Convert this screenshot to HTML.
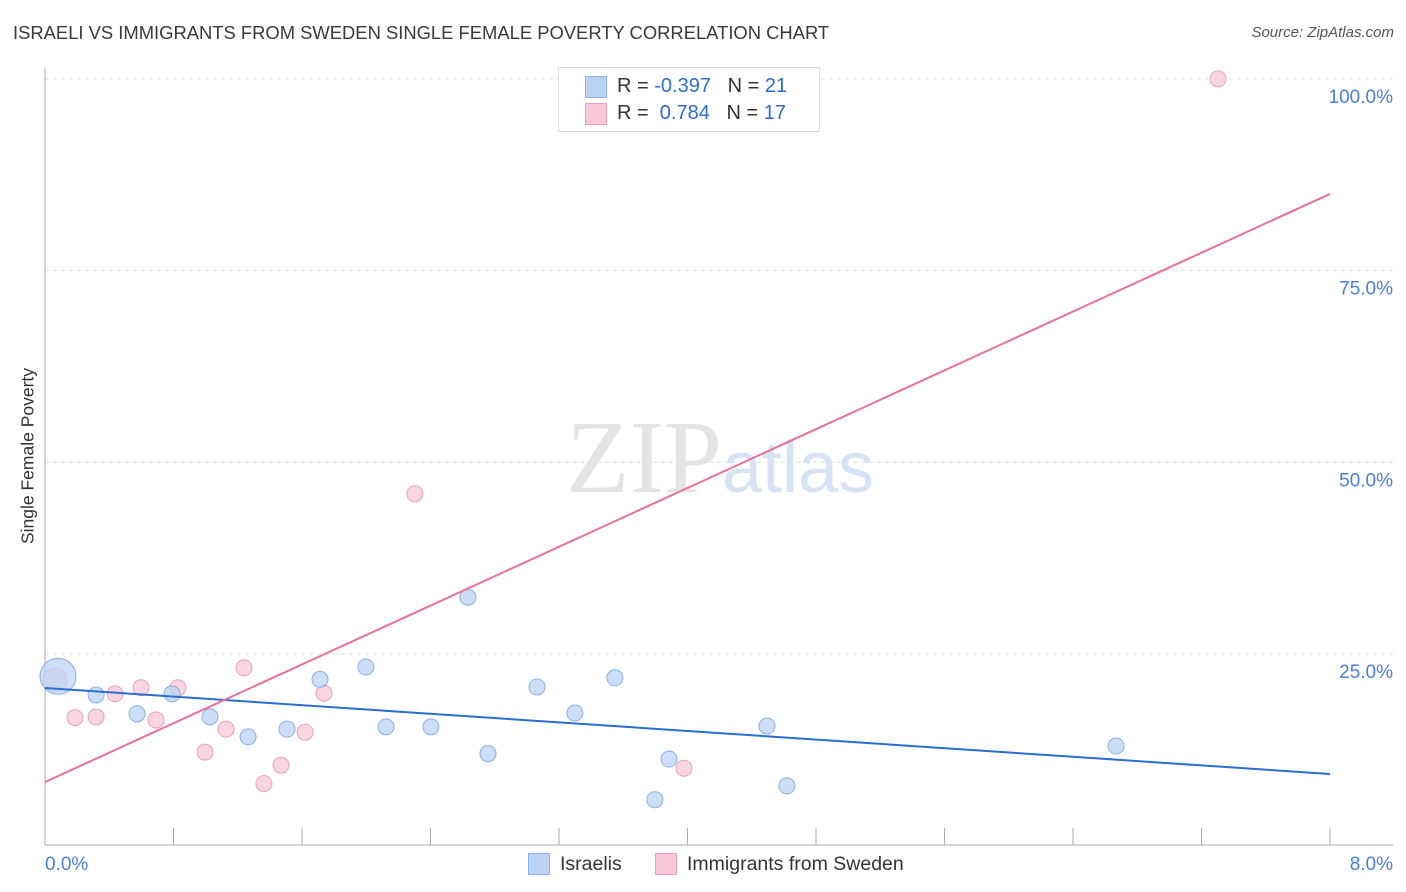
<!DOCTYPE html>
<html><head><meta charset="utf-8"><style>
body{margin:0;background:#fff;font-family:"Liberation Sans",sans-serif;}
#wrap{position:relative;width:1406px;height:892px;overflow:hidden;}
.t{position:absolute;white-space:nowrap;}
</style></head><body>
<div id="wrap">
<div class="t" style="left:13px;top:22px;font-size:18.4px;color:#3a3a3a;">ISRAELI VS IMMIGRANTS FROM SWEDEN SINGLE FEMALE POVERTY CORRELATION CHART</div>
<div class="t" style="right:12px;top:24px;font-size:15px;color:#555;font-style:italic;">Source: ZipAtlas.com</div>
<div class="t" style="left:28px;top:456px;font-size:17.5px;color:#333;transform:translate(-50%,-50%) rotate(-90deg);">Single Female Poverty</div>
<svg id="svg" width="1406" height="892" style="position:absolute;left:0;top:0;"></svg>
<div style="position:absolute;left:558px;top:67px;width:260px;height:63px;border:1px solid #ddd;background:#fff;font-size:20px;">
 <div style="position:absolute;left:26px;top:8px;width:20px;height:20px;background:#bcd4f4;border:1px solid #8ab0e8;"></div>
 <div class="t" style="left:58px;top:7px;color:#333;">R = <span style="color:#2a6dd4">-0.397</span>&nbsp;&nbsp;&nbsp;N = <span style="color:#2a6dd4">21</span></div>
 <div style="position:absolute;left:26px;top:35px;width:20px;height:20px;background:#f8c8d8;border:1px solid #eea0b8;"></div>
 <div class="t" style="left:58px;top:34px;color:#333;">R = &nbsp;<span style="color:#2a6dd4">0.784</span>&nbsp;&nbsp;&nbsp;N = <span style="color:#2a6dd4">17</span></div>
</div>
<div style="position:absolute;left:528px;top:853px;width:20px;height:20px;background:#bcd4f4;border:1px solid #8ab0e8;"></div>
<div class="t" style="left:560px;top:853px;font-size:19.5px;color:#333;">Israelis</div>
<div style="position:absolute;left:655px;top:853px;width:20px;height:20px;background:#f8c8d8;border:1px solid #eea0b8;"></div>
<div class="t" style="left:687px;top:853px;font-size:19.5px;color:#333;">Immigrants from Sweden</div>
</div>
<script>
const blueX=[0.081,0.318,0.573,0.791,1.027,1.264,1.507,1.712,1.998,2.123,2.403,2.633,2.758,3.063,3.299,3.548,3.797,3.885,4.495,4.619,6.668];
const blueY=[22.1,19.65,17.2,19.8,16.8,14.2,15.2,21.7,23.3,15.5,15.5,32.4,12.0,20.7,17.3,21.9,6.0,11.3,15.6,7.8,13.0];
const pinkX=[0.062,0.187,0.318,0.436,0.598,0.691,0.828,0.996,1.127,1.239,1.363,1.469,1.619,1.737,2.303,3.978,7.303];
const pinkY=[21.6,16.7,16.8,19.8,20.6,16.4,20.6,12.2,15.2,23.2,8.1,10.5,14.8,19.9,45.9,10.1,100.0];
const blueLine=[20.57,9.35];
const pinkLine=[8.3,85.0];
const yTicks=[25,50,75,100];
const yTickLabels=["25.0%","50.0%","75.0%","100.0%"];
const xTickLabels=["0.0%","8.0%"];
const NS="http://www.w3.org/2000/svg";
const svg=document.getElementById('svg');
const X=v=>45+v/8*1285, Y=v=>845.7-v/25*191.7;
function mk(t,a){const e=document.createElementNS(NS,t);for(const k in a)e.setAttribute(k,a[k]);svg.appendChild(e);return e;}
yTicks.forEach((v,i)=>{
 const g=mk('line',{x1:45,x2:1393,y1:Y(v),y2:Y(v),stroke:'#ddd','stroke-dasharray':'4,4'});
 
 
 const t=mk('text',{x:1393,y:Y(v)+24,'text-anchor':'end','font-size':19,fill:'#4a7fd4','font-family':'Liberation Sans'});
 t.textContent=yTickLabels[i];
 
 
});
const ax=mk('line',{x1:45,x2:1393,y1:845,y2:845,stroke:'#aaa'});


const ay=mk('line',{x1:45,x2:45,y1:68,y2:845,stroke:'#aaa'});


for(let i=0;i<=10;i++){
 const tk=mk('line',{x1:X(i*0.8),x2:X(i*0.8),y1:828,y2:845,stroke:'#aaa'});
 
 
}
[[0,'start',45],[1,'end',1393]].forEach(([i,a,x])=>{
 const t=mk('text',{x:x,y:870,'text-anchor':a,'font-size':19,fill:'#4a7fd4','font-family':'Liberation Sans'});
 t.textContent=xTickLabels[i];
 
 
});
const wm=mk('text',{x:720,y:492,'text-anchor':'middle','font-size':104,fill:'#e4e4e4','font-family':'Liberation Serif'});
wm.innerHTML='ZIP<tspan font-family="Liberation Sans" font-size="72" fill="#d6e3f5">atlas</tspan>';


function pts(xs,ys,fill,stroke,name){
 xs.forEach((x,i)=>{
  const c=mk('circle',{cx:X(x),cy:Y(ys[i]),r:i===0?(name==='israeli-point'?18:12):8,fill:fill,stroke:stroke,'stroke-width':1,'fill-opacity':0.75});
  
  
 });
}
pts(pinkX,pinkY,'#f8c8d8','#eea0b8','sweden-point');
pts(blueX,blueY,'#bcd4f4','#8ab0e8','israeli-point');
const bl=mk('line',{x1:X(0),y1:Y(blueLine[0]),x2:X(8),y2:Y(blueLine[1]),stroke:'#2a6dd4','stroke-width':2});


const pl=mk('line',{x1:X(0),y1:Y(pinkLine[0]),x2:X(8),y2:Y(pinkLine[1]),stroke:'#e8709a','stroke-width':2});


</script>
</body></html>
